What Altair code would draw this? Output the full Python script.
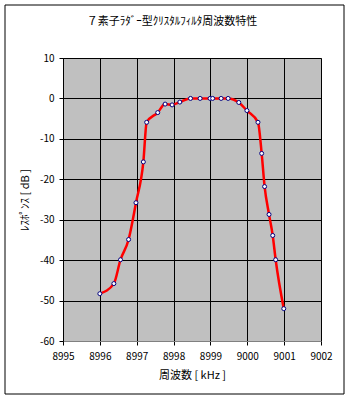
import altair as alt
import pandas as pd

freq_khz = [8996.00, 8996.38, 8996.56, 8996.78, 8996.98, 8997.18, 8997.27, 8997.57,
            8997.77, 8997.96, 8998.17, 8998.46, 8998.72, 8998.99, 8999.06, 8999.29,
            8999.48, 8999.77, 8999.99, 9000.29, 9000.39, 9000.47, 9000.59, 9000.69,
            9000.77, 9000.99]
response_db = [-48.3, -45.8, -39.9, -34.9, -25.8, -15.7, -5.9, -3.5,
               -1.4, -1.6, -0.9, 0.0, 0.0, 0.0, 0.0, 0.0,
               0.0, -1.0, -3.0, -5.9, -13.6, -21.8, -28.7, -33.9,
               -39.9, -52.0]
x_ticks = [8995, 8996, 8997, 8998, 8999, 9000, 9001, 9002]
y_ticks = [10, 0, -10, -20, -30, -40, -50, -60]

df = pd.DataFrame({"f": freq_khz, "db": response_db})

FONT = "Noto Sans CJK JP"

x_enc = alt.X("f:Q", scale=alt.Scale(domain=[8995, 9002], nice=False, zero=False),
              axis=alt.Axis(values=x_ticks, format="d", title="周波数 [ kHz ]",
                            labelOverlap=False, labelFlush=False,
                            labelFontSize=10, titleFontSize=11, titleFontWeight="normal",
                            labelFont=FONT, titleFont=FONT, labelColor="black",
                            titleColor="black", tickColor="black", tickSize=4,
                            labelPadding=6, titlePadding=8, domainColor="#808080",
                            gridColor="black", gridOpacity=1, gridWidth=1))
y_enc = alt.Y("db:Q", scale=alt.Scale(domain=[-60, 10], nice=False, zero=False),
              axis=alt.Axis(values=y_ticks, title="ﾚｽﾎﾟﾝｽ [ dB ]",
                            labelExpr="toString(datum.value)",
                            labelOverlap=False, labelFlush=False,
                            labelFontSize=10, titleFontSize=11, titleFontWeight="normal",
                            labelFont=FONT, titleFont=FONT, labelColor="black",
                            titleColor="black", tickColor="black", tickSize=4,
                            labelPadding=5, titlePadding=9, domainColor="black",
                            gridColor="black", gridOpacity=1, gridWidth=1))

line = alt.Chart(df).mark_line(color="#FF0000", strokeWidth=2.5, interpolate="monotone").encode(
    x=x_enc, y=y_enc)
pts = alt.Chart(df).mark_point(shape="circle", filled=True, fill="white", stroke="#000080",
                               strokeWidth=1, size=16, opacity=1).encode(x=x_enc, y=y_enc)

border = alt.Chart(pd.DataFrame({"a": [0]})).mark_rect(
    fill=None, stroke="black", strokeWidth=1, clip=False).encode(
    x=alt.value(-58), x2=alt.value(281), y=alt.value(-53), y2=alt.value(336))

chart = alt.layer(line, pts, border).properties(
    width=258, height=283,
    title=alt.TitleParams("７素子ﾗﾀﾞｰ型ｸﾘｽﾀﾙﾌｨﾙﾀ周波数特性", font=FONT, fontSize=11,
                          fontWeight="normal", color="black", anchor="middle",
                          frame="group", dx=-20, offset=-22),
    padding={"left": 63, "top": 58, "right": 30, "bottom": 59},
    autosize=alt.AutoSizeParams(type="none"),
    background="white",
).configure_view(fill="#C0C0C0", stroke="#808080", strokeWidth=1)

chart.save("out.html", embed_options={"renderer": "svg", "actions": False})
